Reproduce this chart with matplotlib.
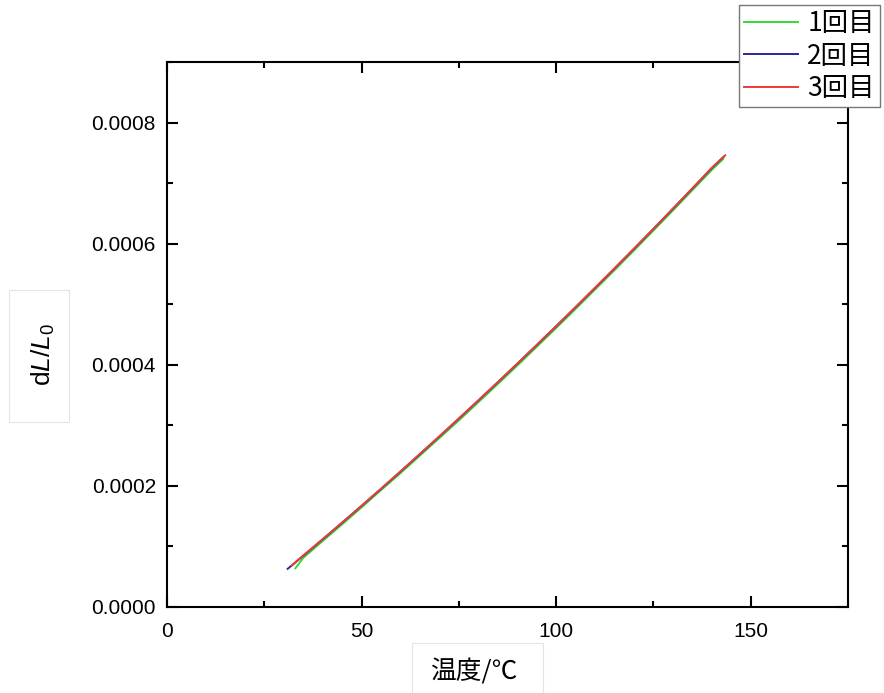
import matplotlib
matplotlib.use("Agg")
import matplotlib.pyplot as plt
from matplotlib.patches import Rectangle
from matplotlib.ticker import MultipleLocator, FormatStrFormatter

plt.rcParams['font.family'] = ['Liberation Sans', 'Noto Sans CJK JP', 'DejaVu Sans']
plt.rcParams['mathtext.fontset'] = 'custom'
plt.rcParams['mathtext.rm'] = 'Liberation Sans'
plt.rcParams['mathtext.it'] = 'Liberation Sans:italic'

# temperature (deg C) and dL/L0 for the three runs
temp_1 = [33, 35, 40, 45, 50, 55, 60, 65, 70, 75, 80, 85, 90, 95, 100, 105, 110, 115, 120, 125, 130, 135, 140, 143]
dl_1 = [6.4e-5, 8.1e-5, 1.09e-4, 1.365e-4, 1.645e-4, 1.93e-4, 2.21e-4, 2.50e-4, 2.79e-4, 3.08e-4, 3.38e-4,
        3.68e-4, 3.985e-4, 4.295e-4, 4.605e-4, 4.92e-4, 5.24e-4, 5.56e-4, 5.885e-4, 6.215e-4, 6.545e-4,
        6.88e-4, 7.215e-4, 7.40e-4]

temp_2 = [31, 35, 40, 45, 50, 55, 60, 65, 70, 75, 80, 85, 90, 95, 100, 105, 110, 115, 120, 125, 130, 135, 140, 143]
dl_2 = [6.3e-5, 8.45e-5, 1.116e-4, 1.391e-4, 1.669e-4, 1.950e-4, 2.235e-4, 2.524e-4, 2.815e-4, 3.110e-4,
        3.408e-4, 3.709e-4, 4.014e-4, 4.323e-4, 4.634e-4, 4.949e-4, 5.267e-4, 5.588e-4, 5.913e-4, 6.240e-4,
        6.573e-4, 6.907e-4, 7.245e-4, 7.43e-4]

temp_3 = [32, 35, 40, 45, 50, 55, 60, 65, 70, 75, 80, 85, 90, 95, 100, 105, 110, 115, 120, 125, 130, 135, 140, 143.5]
dl_3 = [6.8e-5, 8.5e-5, 1.12e-4, 1.395e-4, 1.672e-4, 1.953e-4, 2.238e-4, 2.527e-4, 2.818e-4, 3.113e-4,
        3.411e-4, 3.712e-4, 4.017e-4, 4.326e-4, 4.637e-4, 4.952e-4, 5.27e-4, 5.591e-4, 5.916e-4, 6.243e-4,
        6.576e-4, 6.91e-4, 7.25e-4, 7.46e-4]

labels = ["1回目", "2回目", "3回目"]
colors = ["#33dd33", "#2a2a9a", "#ee3a3a"]

W, H = 884, 693
fig = plt.figure(figsize=(W / 100, H / 100), dpi=100)
ax = fig.add_axes([0.189, 0.1241, 0.770, 0.7864])

ax.plot(temp_1, dl_1, color=colors[0], lw=1.4, label=labels[0])
ax.plot(temp_2, dl_2, color=colors[1], lw=1.4, label=labels[1])
ax.plot(temp_3, dl_3, color=colors[2], lw=1.4, label=labels[2])

ax.set_xlim(0, 175)
ax.set_ylim(0, 0.0009)
ax.xaxis.set_major_locator(MultipleLocator(50))
ax.xaxis.set_minor_locator(MultipleLocator(25))
ax.yaxis.set_major_locator(MultipleLocator(0.0002))
ax.yaxis.set_minor_locator(MultipleLocator(0.0001))
ax.yaxis.set_major_formatter(FormatStrFormatter('%.4f'))

for s in ax.spines.values():
    s.set_linewidth(1.5)
ax.tick_params(which='both', direction='in', top=True, right=True, width=1.5, labelsize=15)
ax.tick_params(which='major', length=8)
ax.tick_params(which='minor', length=4.5)
ax.tick_params(axis='x', pad=11)
ax.tick_params(axis='y', pad=8)

# faint frames around the axis titles
for (x0, y0, x1, y1) in [(9, 290, 69, 422), (412, 643, 543, 700)]:
    fig.add_artist(Rectangle((x0 / W, 1 - y1 / H), (x1 - x0) / W, (y1 - y0) / H,
                             transform=fig.transFigure, fc='none', ec='#e4e4e4', lw=0.8))

ax.set_xlabel("温度/℃", fontsize=18.5, family=['Noto Sans CJK JP', 'DejaVu Sans'], va='center')
ax.xaxis.set_label_coords((475 - 167) / 681, (607 - 672) / 545)
ax.set_ylabel(r"$\mathrm{d}L/L_0$", fontsize=19, va='center')
ax.yaxis.set_label_coords((43 - 167) / 681, (607 - 355) / 545)

leg = fig.legend(loc='upper right', bbox_to_anchor=(880 / W, 1 - 5 / H),
                 prop={'family': ['Noto Sans CJK JP'], 'size': 19}, fancybox=False,
                 edgecolor='#777777', framealpha=1, handlelength=2.05, labelspacing=0.2,
                 borderpad=0.2, handletextpad=0.35, borderaxespad=0)
leg.get_frame().set_linewidth(1.0)

fig.savefig("out.png", dpi=100)
